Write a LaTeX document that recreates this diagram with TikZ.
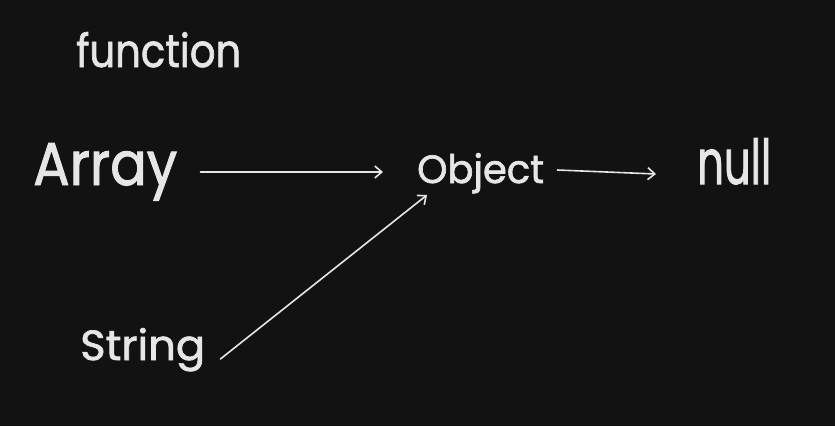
\documentclass[tikz,border=0pt]{standalone}
\usepackage{fontspec}
\setmainfont{Poppins}[FakeBold=1.6]
\usetikzlibrary{arrows.meta}
\definecolor{bg}{HTML}{121212}
\definecolor{ink}{HTML}{E6E6E6}
% scale a word to a given width and height (above the baseline), in pt
\newcommand{\fitword}[3]{\resizebox{#1pt}{#2pt}{#3}}
\begin{document}
\begin{tikzpicture}[x=1pt,y=-1pt,
  word/.style={anchor=base west, inner sep=0pt, text=ink},
  link/.style={draw=ink, line width=1.6pt, line cap=round,
    -{Straight Barb[length=7pt,width=12pt,line width=1.6pt]}}]
  \fill[bg] (0,0) rectangle (835,426);
  \useasboundingbox (0,0) rectangle (835,426);

  \node[word] (fn)  at (76,67)  {\fitword{165}{35}{function}};
  \node[word] (arr) at (33,185) {\fitword{144}{42}{Array}};
  \node[word] (obj) at (417,183){\fitword{127}{30}{Object}};
  \node[word] (nul) at (697,184){\fitword{74}{46}{null}};
  \node[word] (str) at (80,360) {\fitword{125}{32}{String}};

  \draw[link] ([shift={(23,-13)}]arr.base east) -- ([shift={(-34,-11)}]obj.base west);
  \draw[link] ([shift={(13,-13)}]obj.base east) -- ([shift={(-41,-10)}]nul.base west);
  \draw[link] ([shift={(15,-1)}]str.base east) -- ([shift={(10,12)}]obj.base west);
\end{tikzpicture}
\end{document}
